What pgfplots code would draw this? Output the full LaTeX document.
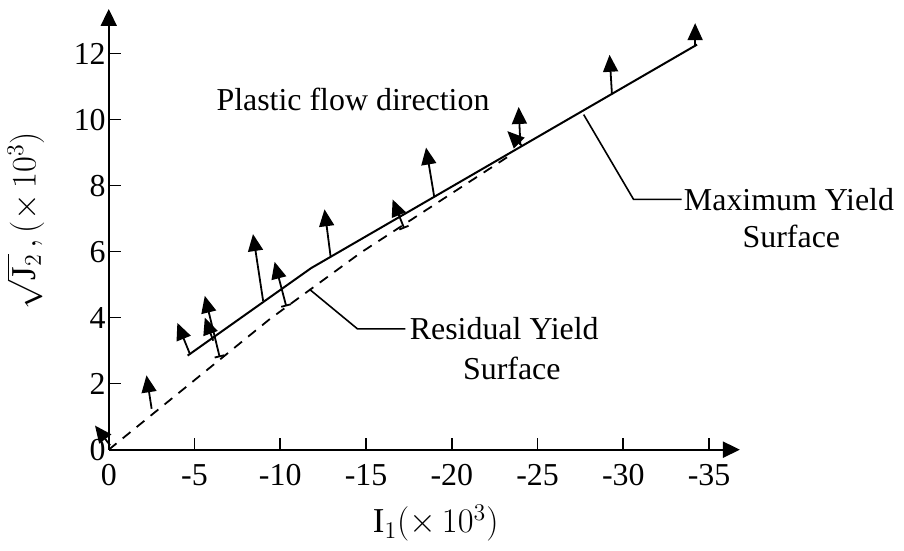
\documentclass[border=0pt]{standalone}
\usepackage{pgfplots}
\pgfplotsset{compat=1.18}
\usepackage{amsmath}
\usepackage{fontspec}
\setmainfont{Liberation Serif}
\usetikzlibrary{arrows.meta}

\begin{document}
\begin{tikzpicture}[font=\fontsize{16}{19}\selectfont]
\begin{axis}[
    scale only axis,
    width=316.5pt, height=221pt,
    xmin=0, xmax=36.8, ymin=0, ymax=13.35,
    axis lines=left,
    axis line style={line width=1pt, -{Triangle[length=8.5pt,width=8pt]}},
    xtick={0,5,...,35},
    xticklabels={0,-5,-10,-15,-20,-25,-30,-35},
    ytick={0,2,...,12},
    tick align=inside,
    major tick length=6pt,
    tick style={line width=0.8pt, black},
    xticklabel style={yshift=-4pt},
    yticklabel style={xshift=2pt},
    /pgf/number format/assume math mode=true,
    xlabel={$\text{I}_1(\times\,10^3)$},
    ylabel={$\sqrt{\text{J}_2}\,,(\times\,10^3)$},
    label style={font=\fontsize{17.5}{20}\selectfont},
    xlabel style={at={(axis description cs:0.518,-0.167)}, anchor=center},
    ylabel style={at={(axis description cs:-0.132,0.52)}, anchor=center},
    clip=false,
]
% maximum yield surface
\addplot[line width=1pt] coordinates {(4.6,2.85) (11.8,5.5) (34.3,12.27)};
% residual yield surface
\addplot[line width=0.9pt, dash pattern=on 5pt off 4pt] coordinates {(0,0) (9.4,3.96) (14.7,5.97) (23.5,8.95)};
% plastic flow directions
\addplot[quiver={u=\thisrow{u},v=\thisrow{v}}, line width=0.9pt,
    -{Triangle[length=8.5pt,width=7.5pt]}] table {
x y u v
0.08 0.13 -0.88 0.60
2.5 1.24 -0.30 1.01
4.73 2.9 -0.73 0.94
6.09 3.3 -0.49 0.70
9.0 4.51 -0.59 2.02
12.93 5.87 -0.35 1.41
18.97 7.68 -0.47 1.47
24.0 9.24 -0.10 1.14
24.1 9.2 -0.86 0.45
29.34 10.76 -0.14 1.20
34.19 12.27 0.0 0.65
};
\addplot[quiver={u=\thisrow{u},v=\thisrow{v}}, line width=0.9pt,
    {Bar[width=5pt]}-{Triangle[length=8.5pt,width=7.5pt]}] table {
x y u v
6.47 2.8 -0.87 1.86
10.35 4.34 -0.68 1.35
17.23 6.7 -0.68 0.88
};
% annotations
\node at (axis cs:14.24,10.6) {Plastic flow direction};
\draw[line width=0.8pt] (axis cs:27.69,10.15) -- (axis cs:30.6,7.58) -- (axis cs:33.4,7.58);
\node[anchor=west, inner sep=1pt] at (axis cs:33.4,7.58) {Maximum Yield};
\node at (axis cs:39.8,6.47) {Surface};
\draw[line width=0.8pt] (axis cs:11.7,4.86) -- (axis cs:14.5,3.66) -- (axis cs:17.3,3.66);
\node[anchor=west, inner sep=2pt] at (axis cs:17.3,3.66) {Residual Yield};
\node at (axis cs:23.5,2.45) {Surface};
\end{axis}
% small margins as in the reference
\coordinate (nw) at (current bounding box.north west);
\coordinate (se) at (current bounding box.south east);
\path (nw) ++(0pt,4pt) (se) ++(4pt,-1pt);
\end{tikzpicture}
\end{document}
